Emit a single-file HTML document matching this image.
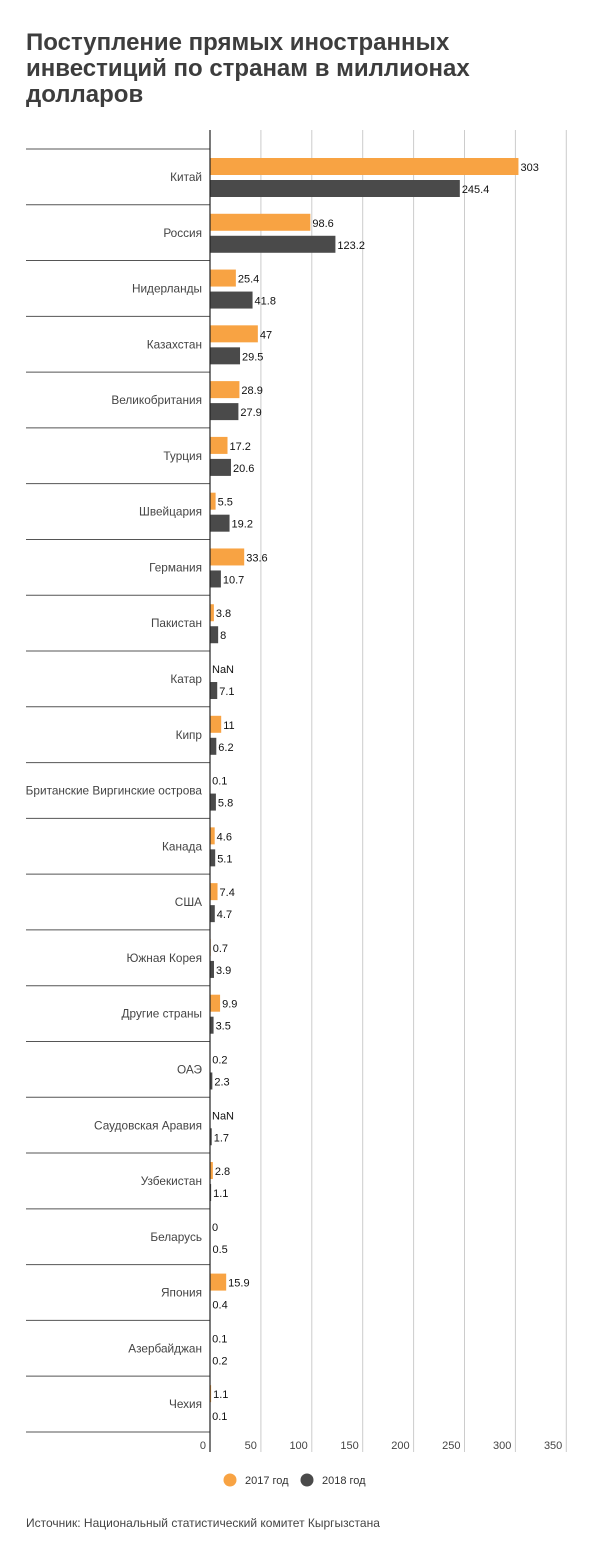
<!DOCTYPE html>
<html><head><meta charset="utf-8"><style>
body{margin:0;background:#fff;width:600px;height:1557px;overflow:hidden;font-family:"Liberation Sans","DejaVu Sans",sans-serif}
</style></head><body>
<svg width="600" height="1557" xmlns="http://www.w3.org/2000/svg" font-family="Liberation Sans, DejaVu Sans, sans-serif">
<text x="26" y="50" font-size="24" font-weight="bold" fill="#3d3d3d">Поступление прямых иностранных</text>
<text x="26" y="76" font-size="24" font-weight="bold" fill="#3d3d3d">инвестиций по странам в миллионах</text>
<text x="26" y="102" font-size="24" font-weight="bold" fill="#3d3d3d">долларов</text>
<g id="c"></g>
</svg>
<script>
const d=[["Китай",303,245.4],["Россия",98.6,123.2],["Нидерланды",25.4,41.8],["Казахстан",47,29.5],["Великобритания",28.9,27.9],["Турция",17.2,20.6],["Швейцария",5.5,19.2],["Германия",33.6,10.7],["Пакистан",3.8,8],["Катар",null,7.1],["Кипр",11,6.2],["Британские Виргинские острова",0.1,5.8],["Канада",4.6,5.1],["США",7.4,4.7],["Южная Корея",0.7,3.9],["Другие страны",9.9,3.5],["ОАЭ",0.2,2.3],["Саудовская Аравия",null,1.7],["Узбекистан",2.8,1.1],["Беларусь",0,0.5],["Япония",15.9,0.4],["Азербайджан",0.1,0.2],["Чехия",1.1,0.1]];
const X0=210,K=1.018,T=149,S=55.78;let s='';
for(let i=1;i<=7;i++){const x=X0+i*50*K;s+=`<line x1="${x}" y1="130" x2="${x}" y2="1452" stroke="#ccc" stroke-width="1"/><text x="${x-4}" y="1449" font-size="11" fill="#444" text-anchor="end">${i*50}</text>`;}
s+=`<text x="206" y="1449" font-size="11" fill="#444" text-anchor="end">0</text>`;
d.forEach((r,i)=>{const y=T+i*S;
s+=`<line x1="26" y1="${y}" x2="210" y2="${y}" stroke="#555" stroke-width="1"/>`;
s+=`<text x="202" y="${y+32}" font-size="11.8" fill="#444" text-anchor="end">${r[0]}</text>`;
const a=r[1],b=r[2];
if(a!==null){const w=a*K;s+=`<rect x="${X0}" y="${y+9}" width="${w}" height="17" fill="#f8a343"/>`;}
s+=`<text x="${X0+(a||0)*K+2}" y="${y+22}" font-size="11" fill="#111">${a===null?'NaN':a}</text>`;
s+=`<rect x="${X0}" y="${y+31}" width="${b*K}" height="17" fill="#4a4a4a"/>`;
s+=`<text x="${X0+b*K+2}" y="${y+44}" font-size="11" fill="#111">${b}</text>`;
});
s+=`<line x1="26" y1="1432" x2="210" y2="1432" stroke="#555"/><line x1="210" y1="130" x2="210" y2="1452" stroke="#222" stroke-width="1.2"/>`;
s+=`<circle cx="230" cy="1480" r="6.5" fill="#f8a343"/><text x="245" y="1484" font-size="11" fill="#333">2017 год</text><circle cx="307" cy="1480" r="6.5" fill="#4a4a4a"/><text x="322" y="1484" font-size="11" fill="#333">2018 год</text>`;
s+=`<text x="26" y="1527" font-size="12" fill="#444">Источник: Национальный статистический комитет Кыргызстана</text>`;
document.getElementById('c').innerHTML=s;
</script>
</body></html>
